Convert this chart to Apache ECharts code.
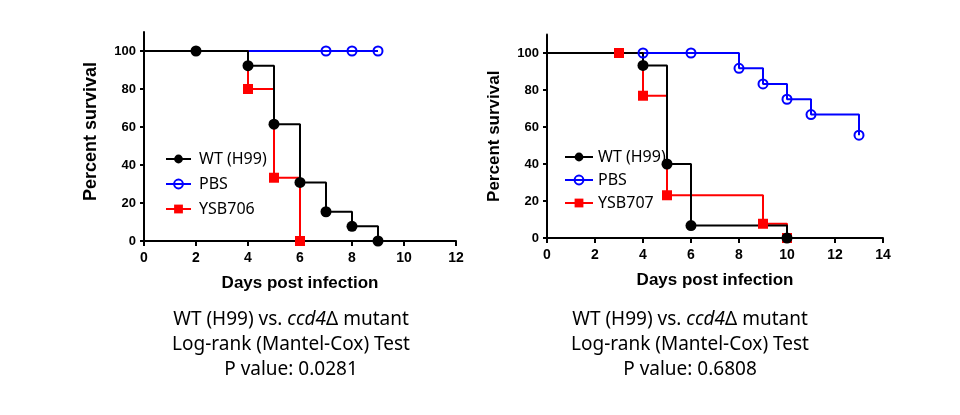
<!DOCTYPE html>
<html>
<head>
<meta charset="utf-8">
<script src="https://cdn.jsdelivr.net/npm/echarts@6/dist/echarts.min.js"></script>
<style>
  html, body { margin: 0; padding: 0; background: #fff; }
  #main { width: 960px; height: 415px; }
</style>
</head>
<body>
<div id="main"></div>
<script>
// survival data (days, percent)
var daysA_WT = [0, 2, 4, 5, 6, 7, 8, 9];
var survA_WT = [100, 100, 92.3, 61.5, 30.8, 15.4, 7.7, 0];
var daysA_PBS = [0, 7, 8, 9];
var survA_PBS = [100, 100, 100, 100];
var daysA_YSB = [0, 4, 5, 6];
var survA_YSB = [100, 80, 33.3, 0];

var daysB_WT = [0, 4, 5, 6, 10];
var survB_WT = [100, 93.3, 40, 6.7, 0];
var daysB_PBS = [0, 4, 6, 8, 9, 10, 11, 13];
var survB_PBS = [100, 100, 100, 91.7, 83.3, 75, 66.7, 55.6];
var daysB_YSB = [0, 3, 4, 5, 9, 10];
var survB_YSB = [100, 100, 76.9, 23.1, 7.7, 0];

var namesA = ['WT (H99)', 'PBS', 'YSB706'];
var namesB = ['WT (H99)', 'PBS', 'YSB707'];
var yTicks = [0, 20, 40, 60, 80, 100];
var captionA = ['Log-rank (Mantel-Cox) Test', 'P value: 0.0281'];
var captionB = ['Log-rank (Mantel-Cox) Test', 'P value: 0.6808'];

var BLACK = '#000000', BLUE = '#0000ff', RED = '#ff0000';

function pairs(xs, ys) {
  var out = [];
  for (var i = 0; i < xs.length; i++) out.push([xs[i], ys[i]]);
  return out;
}

// lines go under, markers (all points but day 0) on top
function stepLine(name, xs, ys, idx, color, sym) {
  return {
    name: name, type: 'line', step: 'end',
    xAxisIndex: idx, yAxisIndex: idx,
    data: pairs(xs, ys),
    showSymbol: false, symbol: sym,
    lineStyle: { color: color, width: 2 },
    itemStyle: { color: color },
    z: 2, silent: true, animation: false
  };
}
function marks(xs, ys, idx, color, sym, hollow, zz) {
  return {
    type: 'scatter', xAxisIndex: idx, yAxisIndex: idx,
    data: pairs(xs, ys).slice(1),
    symbol: sym, symbolSize: hollow ? 9 : (sym == 'rect' ? 10 : 11),
    itemStyle: hollow ? { color: 'rgba(0,0,0,0)', borderColor: color, borderWidth: 2, opacity: 1 } : { color: color, opacity: 1 },
    z: zz, silent: true, animation: false
  };
}

function xAx(idx, max) {
  return {
    type: 'value', gridIndex: idx, min: 0, max: max, interval: 2,
    name: 'Days post infection', nameLocation: 'middle', nameGap: 34,
    nameTextStyle: { fontFamily: 'Liberation Sans', fontWeight: 'bold', fontSize: 17, color: '#000' },
    axisLine: { lineStyle: { color: '#000', width: 2 } },
    axisTick: { inside: false, length: 5, lineStyle: { width: 2, color: '#000' } },
    axisLabel: { margin: 10, fontFamily: 'Liberation Sans', fontWeight: 'bold', fontSize: 14, color: '#000' },
    splitLine: { show: false }
  };
}
function yAx(idx, fs, shift) {
  return {
    type: 'value', gridIndex: idx, min: 0, max: 110,
    name: 'Percent survival', nameLocation: 'middle', nameGap: 44,
    nameTextStyle: { fontFamily: 'Liberation Sans', fontWeight: 'bold', fontSize: fs, color: '#000', padding: [0, 0, 0, shift] },
    axisLine: { lineStyle: { color: '#000', width: 2 } },
    axisTick: { length: 4, lineStyle: { width: 2, color: '#000' }, customValues: yTicks },
    axisLabel: { margin: 8, fontFamily: 'Liberation Sans', fontWeight: 'bold', fontSize: 13, color: '#000', customValues: yTicks },
    splitLine: { show: false }
  };
}

function legendData(names) {
  return names.map(function (n) {
    if (n == 'PBS') return { name: n, itemStyle: { color: 'rgba(0,0,0,0)', borderColor: BLUE, borderWidth: 2 } };
    return { name: n };
  });
}

function caption(cx, lines) {
  var font = { fontFamily: 'Noto Sans', fontSize: 19, fill: '#000' };
  var items = [{
    type: 'text', x: cx, y: 320,
    style: {
      text: '{n|WT (H99) vs. }{i|ccd4}{n|\u0394 mutant}',
      rich: {
        n: { fontFamily: 'Noto Sans', fontSize: 19, color: '#000' },
        i: { fontFamily: 'Noto Sans', fontSize: 19, color: '#000', fontStyle: 'italic' }
      },
      align: 'center', verticalAlign: 'middle'
    }
  }];
  lines.forEach(function (t, i) {
    items.push({
      type: 'text', x: cx, y: 345 + i * 24.5,
      style: Object.assign({ text: t, align: 'center', verticalAlign: 'middle' }, font)
    });
  });
  return items;
}

var chart = echarts.init(document.getElementById('main'));
var option = {
  backgroundColor: '#ffffff',
  animation: false,
  // grid sizes chosen so day and 100% positions fall on whole pixels
  grid: [
    { left: 144, right: 504, top: 32, bottom: 174 },
    { left: 547, right: 77, top: 34.5, bottom: 177 }
  ],
  xAxis: [xAx(0, 12), xAx(1, 14)],
  yAxis: [yAx(0, 18, 10), yAx(1, 17, 0)],
  legend: [
    {
      left: 160, top: 146, orient: 'vertical', selectedMode: false,
      itemWidth: 25, itemHeight: 11, itemGap: 9,
      data: legendData(namesA),
      textStyle: { fontFamily: 'Noto Sans', fontSize: 16, color: '#000', padding: [0, 0, 0, 3] }
    },
    {
      left: 559, top: 144, orient: 'vertical', selectedMode: false,
      itemWidth: 28, itemHeight: 11, itemGap: 7,
      data: legendData(namesB),
      textStyle: { fontFamily: 'Noto Sans', fontSize: 16, color: '#000' }
    }
  ],
  series: [
    stepLine(namesA[1], daysA_PBS, survA_PBS, 0, BLUE, 'circle'),
    stepLine(namesA[2], daysA_YSB, survA_YSB, 0, RED, 'rect'),
    stepLine(namesA[0], daysA_WT, survA_WT, 0, BLACK, 'circle'),
    marks(daysA_PBS, survA_PBS, 0, BLUE, 'circle', true, 3),
    marks(daysA_YSB, survA_YSB, 0, RED, 'rect', false, 4),
    marks(daysA_WT, survA_WT, 0, BLACK, 'circle', false, 5),

    stepLine(namesB[1], daysB_PBS, survB_PBS, 1, BLUE, 'circle'),
    stepLine(namesB[2], daysB_YSB, survB_YSB, 1, RED, 'rect'),
    stepLine(namesB[0], daysB_WT, survB_WT, 1, BLACK, 'circle'),
    marks(daysB_PBS, survB_PBS, 1, BLUE, 'circle', true, 3),
    marks(daysB_YSB, survB_YSB, 1, RED, 'rect', false, 4),
    marks(daysB_WT, survB_WT, 1, BLACK, 'circle', false, 5)
  ],
  graphic: caption(291, captionA).concat(caption(690, captionB))
};
chart.setOption(option);
</script>
</body>
</html>
